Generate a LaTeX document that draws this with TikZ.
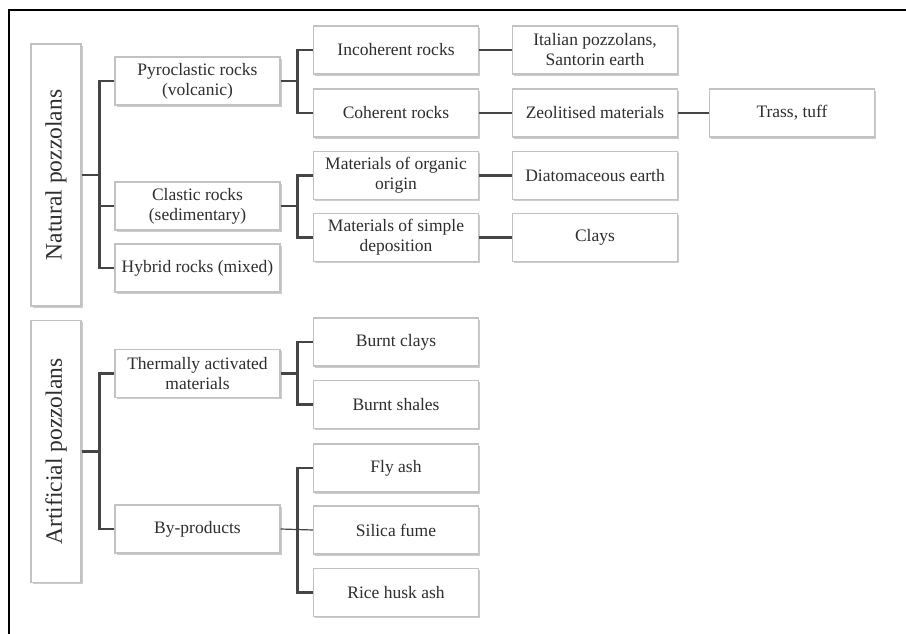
\documentclass[tikz,border=0pt]{standalone}
\usepackage{fontspec}
\setmainfont{Liberation Serif}
\usetikzlibrary{shadows}
\definecolor{boxline}{HTML}{C2C2C2}
\definecolor{wire}{HTML}{454545}
\definecolor{ink}{HTML}{2E2E2E}
\begin{document}
\begin{tikzpicture}[x=1pt,y=-1pt,
  cat/.style={draw=boxline,line width=1.2pt,fill=white,
    drop shadow={shadow xshift=1.5pt,shadow yshift=-1.8pt,opacity=0.4,fill=gray},
    text=ink,align=center,inner sep=2pt,
    font=\fontsize{17.5}{20}\selectfont},
  mid/.style={cat,minimum width=165pt,minimum height=48pt},
  side/.style={cat,minimum width=50pt,minimum height=262pt,
    font=\fontsize{23.5}{27}\selectfont},
  conn/.style={draw=wire,line width=2.6pt,line cap=butt,line join=miter},
  thin/.style={draw=wire,line width=1.2pt}]
\useasboundingbox (0,0) rectangle (906,634);

% outer frame (top and left edges)
\draw[line width=2pt] (906,10) -- (9,10) -- (9,634);

% main categories
\node[side] (nat) at (56,175) {\rotatebox{90}{Natural pozzolans}};
\node[side] (art) at (56,451.5) {\rotatebox{90}{Artificial pozzolans}};

% second level
\node[mid] (pyro)  at (197.5,81)    {Pyroclastic rocks\\(volcanic)};
\node[mid] (clas)  at (197.5,206)   {Clastic rocks\\(sedimentary)};
\node[mid] (hyb)   at (197.5,268)   {Hybrid rocks (mixed)};
\node[mid] (therm) at (197.5,373.5) {Thermally activated\\materials};
\node[mid] (byp)   at (197.5,529)   {By-products};

% third level
\node[mid] (incoh)  at (396,50)    {Incoherent rocks};
\node[mid] (coh)    at (396,113)   {Coherent rocks};
\node[mid] (org)    at (396,175.5) {Materials of organic\\origin};
\node[mid] (simp)   at (396,237.5) {Materials of simple\\deposition};
\node[mid] (bclay)  at (396,342)   {Burnt clays};
\node[mid] (bshale) at (396,404.5) {Burnt shales};
\node[mid] (fly)    at (396,468)   {Fly ash};
\node[mid] (sil)    at (396,530)   {Silica fume};
\node[mid] (rice)   at (396,592.5) {Rice husk ash};

% fourth level
\node[mid] (ital)  at (595,50)    {Italian pozzolans,\\Santorin earth};
\node[mid] (zeo)   at (595,113)   {Zeolitised materials};
\node[mid] (diat)  at (595,175.5) {Diatomaceous earth};
\node[mid] (clays) at (595,237.5) {Clays};

% fifth level
\node[mid] (trass) at (792,113) {Trass, tuff};

% tree connectors
\foreach \c in {pyro,clas,hyb}
  \draw[conn] (nat.east) -- ([xshift=18pt]nat.east) |- (\c.west);
\foreach \c in {therm,byp}
  \draw[conn] (art.east) -- ([xshift=18pt]art.east) |- (\c.west);
\foreach \c in {incoh,coh}
  \draw[conn] (pyro.east) -- ([xshift=17pt]pyro.east) |- (\c.west);
\foreach \c in {org,simp}
  \draw[conn] (clas.east) -- ([xshift=17pt]clas.east) |- (\c.west);
\foreach \c in {bclay,bshale}
  \draw[conn] (therm.east) -- ([xshift=17pt]therm.east) |- (\c.west);
\foreach \c in {fly,rice}
  \draw[conn] ([xshift=17pt]byp.east) |- (\c.west);
\draw[thin] (byp.east) -- (sil.west);

\draw[conn] (incoh.east) -- (ital.west);
\draw[conn] (coh.east) -- (zeo.west);
\draw[conn] (org.east) -- (diat.west);
\draw[conn] (simp.east) -- (clays.west);
\draw[conn] (zeo.east) -- (trass.west);
\end{tikzpicture}
\end{document}
